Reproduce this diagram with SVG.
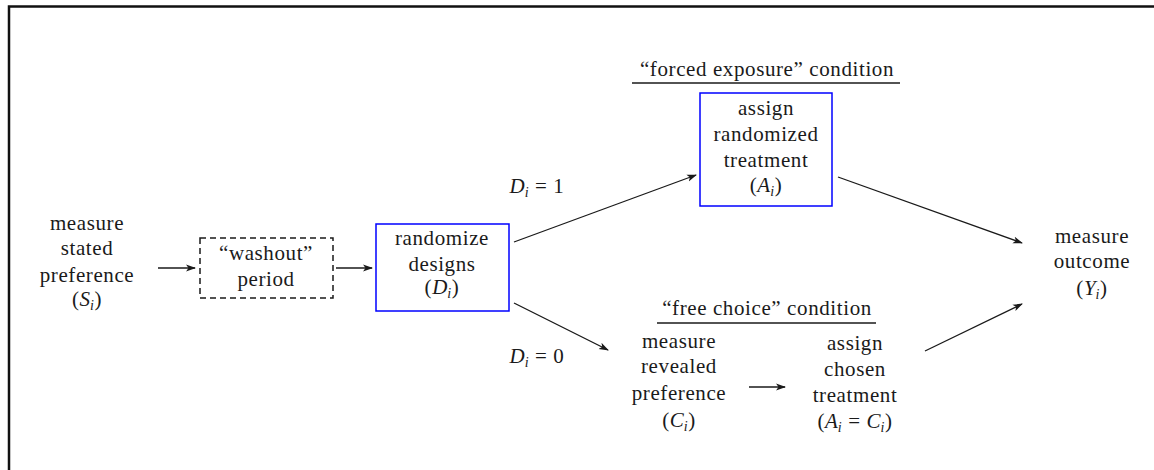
<svg xmlns="http://www.w3.org/2000/svg" width="1154" height="470" viewBox="0 0 1154 470">
<style>
text{font-family:"Liberation Serif","DejaVu Serif","Noto Serif",serif;font-size:21px;fill:#1a1a1a;text-anchor:middle;letter-spacing:0.6px}
.m{font-style:italic;letter-spacing:0}
.s{font-size:14px;font-style:italic}
.box{fill:none;stroke:#0000ff;stroke-width:1.5}
.dash{fill:none;stroke:#1a1a1a;stroke-width:1.5;stroke-dasharray:6,4}
.c{stroke:#1a1a1a;stroke-width:1.3;fill:none;marker-end:url(#ah)}
.ul{stroke:#1a1a1a;stroke-width:1.4}
</style>
<defs>
<marker id="ah" viewBox="0 0 10 10" refX="9" refY="5" markerWidth="10" markerHeight="10" markerUnits="userSpaceOnUse" orient="auto">
<path d="M0,1.5 L10,5 L0,8.5 L2.5,5 Z" fill="#1a1a1a"/>
</marker>
</defs>
<rect width="1154" height="470" fill="#fff"/>
<path d="M9,470 V6.5 H1154" fill="none" stroke="#111" stroke-width="2.5"/>

<g id="stated">
<text x="87" y="230">measure</text>
<text x="87" y="255">stated</text>
<text x="87" y="282">preference</text>
<text x="87" y="306">(<tspan class="m">S</tspan><tspan class="s" dy="4">i</tspan><tspan dy="-4">)</tspan></text>
</g>

<g id="washout">
<rect class="dash" x="200" y="238" width="133" height="60"/>
<text x="266" y="260">“washout”</text>
<text x="266" y="286">period</text>
</g>

<g id="randomize">
<rect class="box" x="376" y="224" width="133" height="87"/>
<text x="442" y="245">randomize</text>
<text x="442" y="271">designs</text>
<text x="442" y="294">(<tspan class="m">D</tspan><tspan class="s" dy="4">i</tspan><tspan dy="-4">)</tspan></text>
</g>

<g id="labelD1"><text x="537" y="193"><tspan class="m">D</tspan><tspan class="s" dy="4">i</tspan><tspan dy="-4"> = 1</tspan></text></g>
<g id="labelD0"><text x="537" y="363"><tspan class="m">D</tspan><tspan class="s" dy="4">i</tspan><tspan dy="-4"> = 0</tspan></text></g>

<g id="forced">
<text x="767" y="76">“forced exposure” condition</text>
<line class="ul" x1="632" y1="83" x2="900" y2="83"/>
<rect class="box" x="700" y="93" width="132" height="113"/>
<text x="766" y="115">assign</text>
<text x="766" y="141">randomized</text>
<text x="766" y="167">treatment</text>
<text x="766" y="192">(<tspan class="m">A</tspan><tspan class="s" dy="4">i</tspan><tspan dy="-4">)</tspan></text>
</g>

<g id="free">
<text x="767" y="315">“free choice” condition</text>
<line class="ul" x1="657" y1="323" x2="876" y2="323"/>
</g>

<g id="revealed">
<text x="679" y="348">measure</text>
<text x="679" y="373">revealed</text>
<text x="679" y="400">preference</text>
<text x="679" y="427">(<tspan class="m">C</tspan><tspan class="s" dy="4">i</tspan><tspan dy="-4">)</tspan></text>
</g>

<g id="chosen">
<text x="855" y="350">assign</text>
<text x="855" y="376">chosen</text>
<text x="855" y="402">treatment</text>
<text x="855" y="428">(<tspan class="m">A</tspan><tspan class="s" dy="4">i</tspan><tspan dy="-4"> = </tspan><tspan class="m">C</tspan><tspan class="s" dy="4">i</tspan><tspan dy="-4">)</tspan></text>
</g>

<g id="outcome">
<text x="1092" y="243">measure</text>
<text x="1092" y="268">outcome</text>
<text x="1092" y="295">(<tspan class="m">Y</tspan><tspan class="s" dy="4">i</tspan><tspan dy="-4">)</tspan></text>
</g>

<g id="connectors">
<line class="c" x1="158" y1="268" x2="195" y2="268"/>
<line class="c" x1="336" y1="268" x2="372" y2="268"/>
<line class="c" x1="514" y1="242" x2="696" y2="175"/>
<line class="c" x1="514" y1="303" x2="608" y2="350"/>
<line class="c" x1="838" y1="177" x2="1022" y2="243"/>
<line class="c" x1="925" y1="351" x2="1022" y2="304"/>
<line class="c" x1="749" y1="387" x2="785" y2="387"/>
</g>
</svg>
